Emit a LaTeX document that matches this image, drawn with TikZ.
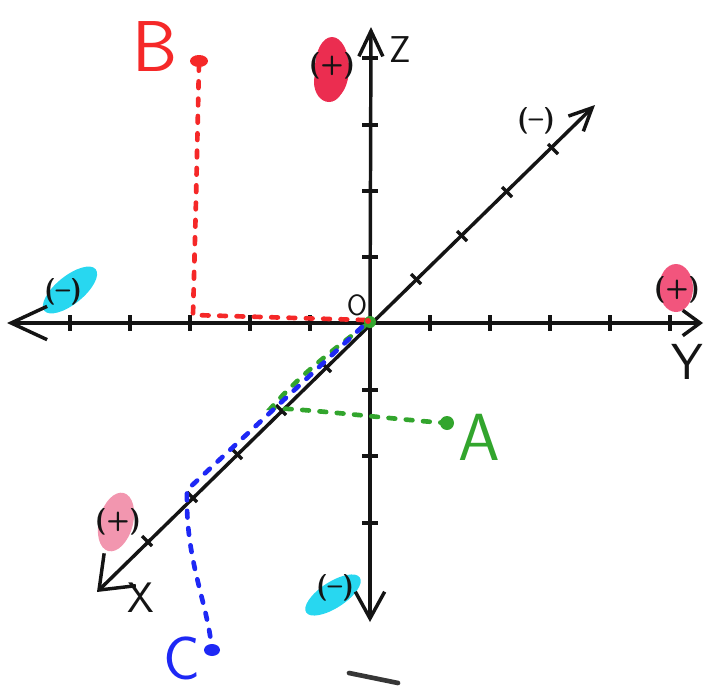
\documentclass[tikz,border=0pt]{standalone}
\usepackage{fontspec}
\renewcommand\familydefault{\sfdefault}
\usetikzlibrary{arrows.meta}
\definecolor{hred}{RGB}{245,40,40}
\definecolor{hgreen}{RGB}{50,165,45}
\definecolor{hblue}{RGB}{30,40,245}
\definecolor{blobred}{RGB}{235,45,80}
\definecolor{blobpink}{RGB}{242,85,125}
\definecolor{blobpale}{RGB}{242,150,175}
\definecolor{blobcyan}{RGB}{40,215,240}
\definecolor{penblack}{RGB}{20,20,20}
\definecolor{pengray}{RGB}{55,55,55}
\begin{document}
\begin{tikzpicture}[x=0.75pt,y=-0.75pt,
  axis/.style={line width=2.6pt,draw=penblack},
  tickmark/.style={line width=2.6pt,draw=penblack},
  hdash/.style={line width=3.5pt,dash pattern=on 5pt off 8pt,line cap=round},
  lbl/.style={inner sep=0pt,font=\fontsize{#1}{#1}\selectfont},
  sign/.style={inner sep=0pt,font=\fontsize{20}{20}\selectfont\bfseries,text=penblack}]
\useasboundingbox (0,0) rectangle (704,700);
% blobs
\fill[blobred] (332,68) ellipse [x radius=17, y radius=31];
\fill[blobred] (329,82) ellipse [x radius=15, y radius=20];
\fill[blobpink] (676,288) ellipse [x radius=17, y radius=24];
\fill[blobpale, rotate around={-15:(116,522)}] (116,522) ellipse [x radius=17, y radius=30];
\fill[blobcyan, rotate around={39:(70,290)}] (70,290) ellipse [x radius=33, y radius=14];
\fill[blobcyan, rotate around={33:(333,595)}] (333,595) ellipse [x radius=32, y radius=13];
% axes coordinates
\coordinate (O) at (370,323);
\coordinate (Lend) at (7,323);
\coordinate (Rend) at (703,323);
\coordinate (Ztop) at (371,27);
\coordinate (Zbot) at (370,622);
\coordinate (Dup) at (595,105);
\coordinate (Ddown) at (97,592);
\draw[axis,-{Straight Barb[length=27pt,width=25pt]}] (O) -- (Lend);
\draw[axis,-{Straight Barb[length=13pt,width=19pt]}] (O) -- (Rend);
\draw[axis,-{Straight Barb[length=19pt,width=18pt]}] (O) -- (Ztop);
\draw[axis,-{Straight Barb[length=20pt,width=22pt]}] (O) -- (Zbot);
\draw[axis,{Straight Barb[length=22pt,width=34pt]}-{Straight Barb[length=17pt,width=16pt]}] (Ddown) -- (Dup);
% ticks
\foreach \x in {70,130,190,250,310,430,490,550,610,670}
  \draw[tickmark] (\x,315) -- (\x,331);
\foreach \y in {58,125,191,257,390,456,523}
  \draw[tickmark] (362,\y) -- (378,\y);
\foreach \p in {(416,279),(462,236),(507,192),(553,149),(326,367),(281,410),(237,454),(192,497),(147,541)}
  \draw[tickmark] \p ++(-5,-5) -- ++(10,10);
% signs
\node[sign] (sz) at (332,66) {(+)};
\node[sign] (sy) at (677,290) {(+)};
\node[sign] (sx) at (118,522) {(+)};
\node[sign] (nl) at (63,292) {(–)};
\node[sign] (nd) at (536,121) {(–)};
\node[sign] (nb) at (335,588) {(–)};
% axis labels
\node[lbl=28,text=penblack] (lz) at (400,50) {Z};
\node[lbl=38,text=penblack] (ly) at (687,362) {Y};
\node[lbl=32,text=penblack] (lx) at (141,598) {X};
\node[lbl=22,text=penblack] (lo) at (357,305) {O};
% points
\node[lbl=54,text=hred] (lb) at (155,47) {B};
\node[lbl=50,text=hgreen] (la) at (479,437) {A};
\node[lbl=46,text=hblue,anchor=north west] (lc) at (163,637) {C};
\fill[hred] (199,61) ellipse [x radius=9, y radius=6];
\coordinate (Bdot) at (199,64);
\coordinate (Bcorner) at (193,315);
\coordinate (Ored) at (365,320);
\draw[hdash,hred] (Bdot) -- (196,200) -- (Bcorner) -- (Ored);
\coordinate (Adot) at (447,423);
\coordinate (Acorner) at (271,408);
\coordinate (Ogreen) at (370,322);
\draw[hdash,hgreen] (Adot) .. controls (400,420) and (320,410) .. (Acorner)
  .. controls (300,375) and (335,348) .. (Ogreen);
\fill[hgreen] (Adot) circle [radius=7];
\fill[hgreen] (Ogreen) circle [radius=6];
\fill[hred] (368,321) circle [radius=3];
\coordinate (Cdot) at (212,650);
\coordinate (Ccorner) at (187,490);
\coordinate (Oblue) at (362,327);
\draw[hdash,hblue] (Oblue) -- (Ccorner) .. controls (185,560) and (207,600) .. (Cdot);
\fill[hblue] (Cdot) ellipse [x radius=8, y radius=6];
% pen stroke at bottom
\coordinate (g1) at (349,673);
\coordinate (g2) at (398,683);
\draw[pengray,line width=3.5pt,line cap=round] (g1) -- (g2);
\end{tikzpicture}
\end{document}
